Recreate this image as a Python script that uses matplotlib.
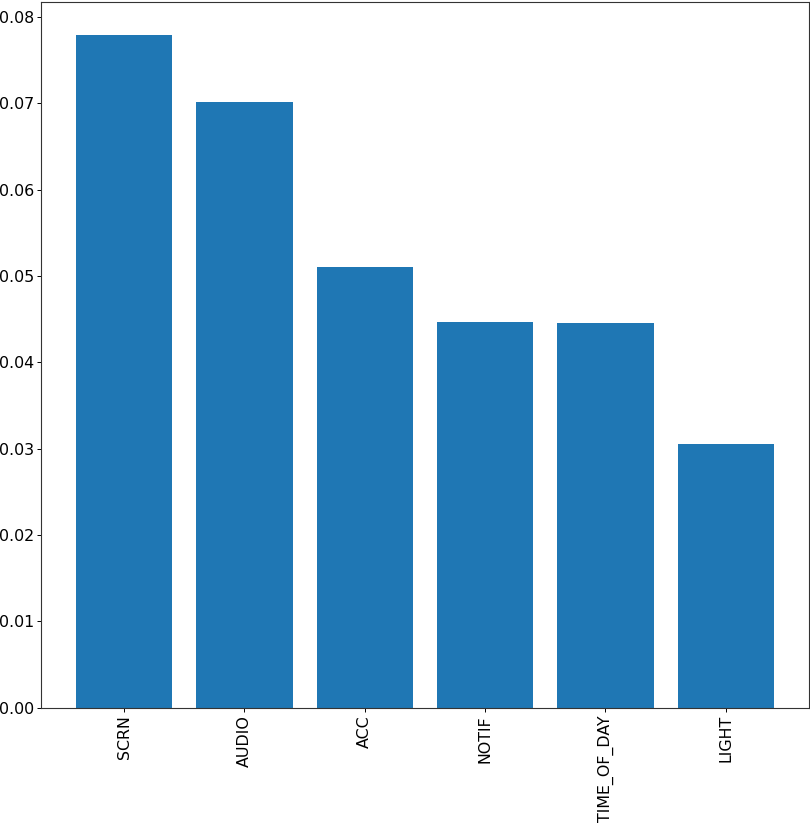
import matplotlib
matplotlib.use("Agg")
import matplotlib.pyplot as plt

categories = ["SCRN", "AUDIO", "ACC", "NOTIF", "TIME_OF_DAY", "LIGHT"]
values = [0.0779, 0.0702, 0.0510, 0.0447, 0.0446, 0.0306]

fig = plt.figure(figsize=(8.10, 8.24), dpi=100)
ax = fig.add_axes([0.0506, 0.1411, 0.948, 0.857])
ax.bar(categories, values, color="#1f77b4", width=0.8)
ax.tick_params(axis="both", labelsize=11.4, length=2.6, width=0.7, pad=2.6)
ax.tick_params(axis="x", labelrotation=90)
for s in ax.spines.values():
    s.set_color("#333333")
    s.set_linewidth(0.8)
fig.savefig("out.png", dpi=100)
